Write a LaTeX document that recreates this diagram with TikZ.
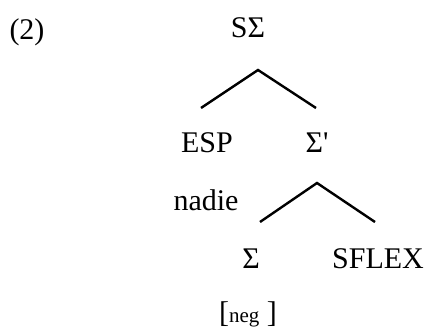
\documentclass[tikz,border=0pt]{standalone}
\usepackage{fontspec}
\setmainfont{Liberation Serif}
\begin{document}
\begin{tikzpicture}[x=1pt,y=-1pt,
  lbl/.style={inner sep=0pt,anchor=base,font=\fontsize{30}{36}\selectfont},
  branch/.style={line width=2.4pt,line cap=butt}]
\useasboundingbox (0,0) rectangle (428,331);
% labels
\node[lbl] (ex)    at (27,40)  {(2)};
\node[lbl] (root)  at (248,38) {SΣ};
\node[lbl] (esp)   at (207,153) {ESP};
\node[lbl] (sbar)  at (317,153) {Σ\textquotesingle};
\node[lbl] (nadie) at (206,210) {nadie};
\node[lbl] (sig)   at (251,268) {Σ};
\node[lbl] (sflex) at (378,268) {SFLEX};
\node[lbl] (feat)  at (248,322) {[{\fontsize{21}{24}\selectfont neg} ]};
% branch points
\coordinate (a1) at (258,70);
\coordinate (l1) at (201,108);
\coordinate (r1) at (316,108);
\coordinate (a2) at (317,183);
\coordinate (l2) at (260,222);
\coordinate (r2) at (375,222);
\draw[branch] (l1) -- (a1) -- (r1);
\draw[branch] (l2) -- (a2) -- (r2);
\end{tikzpicture}
\end{document}
